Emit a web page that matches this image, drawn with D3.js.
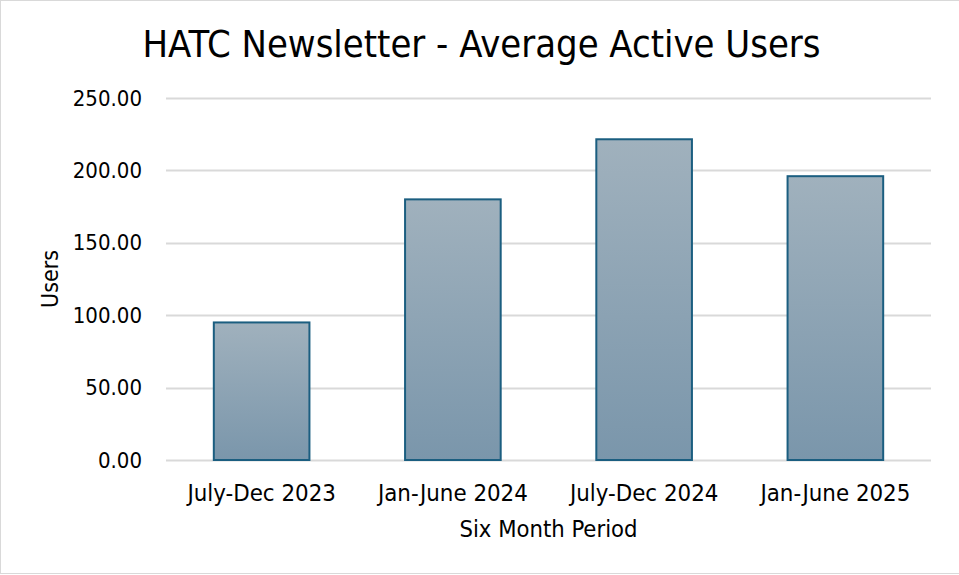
<!DOCTYPE html>
<html>
<head>
<meta charset="utf-8">
<script src="https://cdn.jsdelivr.net/npm/d3@7"></script>
<style>
  html, body { margin: 0; padding: 0; background: #fff; }
  svg { display: block; }
  text { font-family: "DejaVu Sans Condensed", "DejaVu Sans", sans-serif; fill: #000; }
</style>
</head>
<body>
<svg id="chart" width="959" height="575"></svg>
<script>
const categories = ["July-Dec 2023", "Jan-June 2024", "July-Dec 2024", "Jan-June 2025"];
const users = [95, 180, 221.5, 196];
const yTicks = [0, 50, 100, 150, 200, 250];
const chartTitle = "HATC Newsletter - Average Active Users";
const xTitle = "Six Month Period";
const yTitle = "Users";

const FONT = '"DejaVu Sans Condensed", "DejaVu Sans", sans-serif';
const W = 959, H = 575;
const m = { left: 166, right: 28, top: 98, bottom: 115 };
const svg = d3.select("#chart");

svg.append("rect").attr("x", 0.5).attr("y", 0.5).attr("width", W).attr("height", H - 2)
  .attr("fill", "#fff").attr("stroke", "#d9d9d9").attr("stroke-width", 1);

const defs = svg.append("defs");
const grad = defs.append("linearGradient").attr("id", "barGrad")
  .attr("x1", 0).attr("y1", 0).attr("x2", 0).attr("y2", 1);
grad.append("stop").attr("offset", "0%").attr("stop-color", "#a0b1bd");
grad.append("stop").attr("offset", "100%").attr("stop-color", "#7a96ab");

const x = d3.scaleBand().domain(categories).range([m.left, W - m.right]).paddingInner(0.5).paddingOuter(0.25);
const y = d3.scaleLinear().domain([0, 250]).range([H - m.bottom, m.top]);

// gridlines
svg.append("g").selectAll("line").data(yTicks).join("line")
  .attr("x1", m.left).attr("x2", W - m.right)
  .attr("y1", d => Math.round(y(d)) + 0.5).attr("y2", d => Math.round(y(d)) + 0.5)
  .attr("stroke", "#d9d9d9").attr("stroke-width", 2);

// y axis labels
const yAxis = d3.axisLeft(y).tickValues(yTicks).tickFormat(d3.format(".2f")).tickSize(0).tickPadding(0);
const yg = svg.append("g").attr("transform", `translate(${m.left - 24},0)`).call(yAxis);
yg.select(".domain").remove();
yg.selectAll("text").attr("font-size", 22).attr("fill", "#000").style("font-family", FONT);

// bars
svg.append("g").selectAll("rect").data(users).join("rect")
  .attr("x", (d, i) => x(categories[i]))
  .attr("y", d => y(d))
  .attr("width", x.bandwidth())
  .attr("height", d => y(0) - y(d))
  .attr("fill", "url(#barGrad)")
  .attr("stroke", "#1b5e80").attr("stroke-width", 2);

// x axis labels
const xAxis = d3.axisBottom(x).tickSize(0).tickPadding(0);
const xg = svg.append("g").attr("transform", `translate(0,501)`).call(xAxis);
xg.select(".domain").remove();
xg.selectAll("text").attr("font-size", 23.8).attr("fill", "#000").attr("dy", 0).style("font-family", FONT);

// titles
svg.append("text").attr("x", 481.5).attr("y", 57).attr("text-anchor", "middle")
  .attr("font-size", 37.8).text(chartTitle);
svg.append("text").attr("x", (m.left + W - m.right) / 2).attr("y", 537).attr("text-anchor", "middle")
  .attr("font-size", 23.6).text(xTitle);
svg.append("text").attr("transform", `translate(58,${(y(0) + y(250)) / 2}) rotate(-90)`)
  .attr("text-anchor", "middle").attr("font-size", 23).text(yTitle);
</script>
</body>
</html>
